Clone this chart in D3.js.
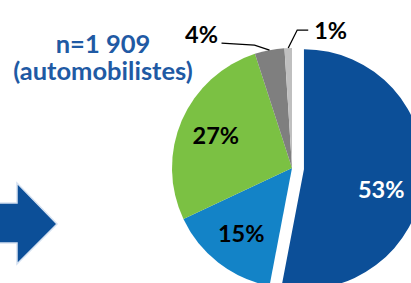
<!DOCTYPE html>
<html><head><meta charset="utf-8">
<script src="https://cdn.jsdelivr.net/npm/d3@7"></script>
<style>html,body{margin:0;padding:0;background:#fff;}svg{display:block;}</style>
</head><body>
<svg id="chart" width="411" height="283"></svg>
<script>
const categories = ["s1", "s2", "s3", "s4", "s5"];
const values = [53, 15, 27, 4, 1];
const labels = ["53%", "15%", "27%", "4%", "1%"];
const colors = ["#0C4F98", "#1383C7", "#7BC143", "#7F7F7F", "#BFBFBF"];
const titleLines = ["n=1 909", "(automobilistes)"];

const svg = d3.select("#chart");
const FONT = "Lato, 'Open Sans', sans-serif";

// title
svg.append("text").attr("x", 103).attr("y", 53).attr("text-anchor", "middle")
  .attr("font-family", FONT).attr("font-weight", 700).attr("font-size", 25.5)
  .attr("fill", "#1F5AA4").text(titleLines[0]);
svg.append("text").attr("x", 103).attr("y", 80).attr("text-anchor", "middle")
  .attr("font-family", FONT).attr("font-weight", 700).attr("font-size", 25.5)
  .attr("fill", "#1F5AA4").text(titleLines[1]);

// arrow
const arrow = d3.path();
arrow.moveTo(-5, 203); arrow.lineTo(17, 203); arrow.lineTo(17, 183);
arrow.lineTo(57, 224); arrow.lineTo(17, 264); arrow.lineTo(17, 243);
arrow.lineTo(-5, 243); arrow.closePath();
svg.append("path").attr("d", arrow.toString()).attr("fill", "#0C4F98")
  .attr("stroke", "#D5E1F1").attr("stroke-width", 1.5);

// pie
const cx = 292, cy = 168, R = 120, explode = 12;
const pie = d3.pie().sort(null).value(d => d).startAngle(0).endAngle(2 * Math.PI);
const arcs = pie(values);
const arc = d3.arc().innerRadius(0).outerRadius(R);
const g = svg.append("g").attr("transform", `translate(${cx},${cy})`);

function off(d, i) {
  if (i !== 0) return [0, 0];
  const a = (d.startAngle + d.endAngle) / 2;
  return [Math.sin(a) * explode, -Math.cos(a) * explode];
}

g.selectAll("path.slice").data(arcs).join("path").attr("class", "slice")
  .attr("d", arc).attr("fill", (d, i) => colors[i])
  .attr("transform", (d, i) => `translate(${off(d, i)})`);

// inner labels
const labelR = [80, 83, 83];
const angleShift = [0.17, 0, 0, 0, 0];
arcs.forEach((d, i) => {
  if (i > 2) return;
  const a = (d.startAngle + d.endAngle) / 2 + angleShift[i];
  const o = off(d, i);
  g.append("text")
    .attr("x", o[0] + Math.sin(a) * labelR[i]).attr("y", o[1] - Math.cos(a) * labelR[i])
    .attr("text-anchor", "middle").attr("dy", "0.36em")
    .attr("font-family", FONT).attr("font-weight", 700).attr("font-size", 23.5)
    .attr("fill", i === 0 ? "#fff" : "#000").text(labels[i]);
});

// outer labels with leader lines
const leaders = {
  3: { pts: [[-15, -5], [-48, -7]], text: [-68, -16], anchor: "middle" },
  4: { pts: [[9, -18], [20, -18]], text: [26, -18], anchor: "start" }
};
[3, 4].forEach(i => {
  const d = arcs[i];
  const a = (d.startAngle + d.endAngle) / 2;
  const p0 = [Math.sin(a) * R, -Math.cos(a) * R];
  const L = leaders[i];
  const line = d3.line();
  const pts = [p0].concat(L.pts.map(p => [p0[0] + p[0], p0[1] + p[1]]));
  g.append("path").attr("d", line(pts)).attr("fill", "none")
    .attr("stroke", "#000").attr("stroke-width", 1.3);
  g.append("text").attr("x", p0[0] + L.text[0]).attr("y", p0[1] + L.text[1])
    .attr("text-anchor", L.anchor).attr("dy", "0.36em")
    .attr("font-family", FONT).attr("font-weight", 700).attr("font-size", 23.5)
    .attr("fill", "#000").text(labels[i]);
});
</script>
</body></html>
